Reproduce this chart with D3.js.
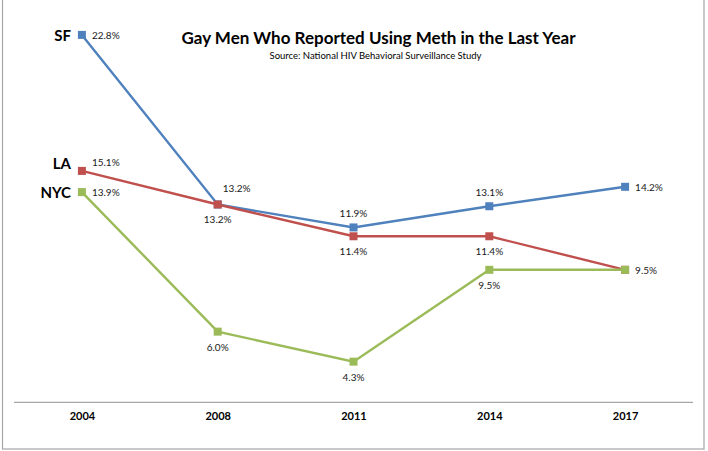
<!DOCTYPE html>
<html>
<head>
<meta charset="utf-8">
<script src="https://cdn.jsdelivr.net/npm/d3@7"></script>
<style>
  body { margin: 0; background: #fff; }
  svg { display: block; font-family: Lato, 'Open Sans', sans-serif; }
</style>
</head>
<body>
<div id="vis"></div>
<script>
var years = ['2004', '2008', '2011', '2014', '2017'];
var sfValues = [22.8, 13.2, 11.9, 13.1, 14.2];
var laValues = [15.1, 13.2, 11.4, 11.4, 9.5];
var nycValues = [13.9, 6.0, 4.3, 9.5, 9.5];
var seriesNames = ['SF', 'LA', 'NYC'];

var width = 708;
var height = 451;

var colors = {SF: '#4f81bd', LA: '#c0504d', NYC: '#9bbb59'};

// where each data label sits relative to its marker
var labelPlacement = {
  SF: ['right', 'aboveRight', 'above', 'above', 'right'],
  LA: ['aboveRight', 'below', 'below', 'below', null],
  NYC: ['right', 'below', 'below', 'below', 'right'],
};

var series = [
  {name: 'SF', values: sfValues},
  {name: 'LA', values: laValues},
  {name: 'NYC', values: nycValues},
];

var svg = d3
  .select('#vis')
  .append('svg')
  .attr('width', width)
  .attr('height', height);

// chart frame
svg
  .append('rect')
  .attr('x', 2.5)
  .attr('y', -5)
  .attr('width', 701.5)
  .attr('height', 454)
  .style('fill', 'none')
  .style('stroke', '#a6a6a6')
  .style('stroke-width', 1.2);

var x = d3
  .scalePoint()
  .domain(years)
  .range([14, 693])
  .padding(0.5);

var y = d3
  .scaleLinear()
  .domain([2, 24])
  .range([402.3, 13.7]);

// category axis
var xAxis = svg
  .append('g')
  .attr('transform', 'translate(0, 402.3)')
  .call(d3.axisBottom(x).tickSize(0).tickPadding(10));

xAxis
  .select('.domain')
  .attr('d', 'M14,0H693')
  .style('stroke', '#a6a6a6')
  .style('stroke-width', 1.2);

xAxis
  .selectAll('text')
  .style('font-family', 'Lato, sans-serif')
  .style('font-size', '11px')
  .style('font-weight', 'bold')
  .style('fill', '#000');

// title
svg
  .append('text')
  .attr('x', 378.5)
  .attr('y', 44)
  .attr('text-anchor', 'middle')
  .style('font-size', '17px')
  .style('font-weight', 'bold')
  .style('fill', '#000')
  .text('Gay Men Who Reported Using Meth in the Last Year');

svg
  .append('text')
  .attr('x', 375.5)
  .attr('y', 59)
  .attr('text-anchor', 'middle')
  .style('font-size', '9.5px')
  .style('fill', '#000')
  .text('Source: National HIV Behavioral Surveillance Study');

var line = d3
  .line()
  .x((d, i) => x(years[i]))
  .y(d => y(d));

var groups = svg
  .selectAll('g.series')
  .data(series)
  .enter()
  .append('g')
  .attr('class', 'series');

groups
  .append('path')
  .attr('d', d => line(d.values))
  .style('fill', 'none')
  .style('stroke', d => colors[d.name])
  .style('stroke-width', 2.4);

groups
  .selectAll('rect')
  .data(d => d.values.map(v => ({name: d.name, v: v})))
  .enter()
  .append('rect')
  .attr('x', (d, i) => x(years[i]) - 4)
  .attr('y', d => y(d.v) - 4)
  .attr('width', 8)
  .attr('height', 8)
  .style('fill', d => colors[d.name]);

// data labels
series.forEach(s => {
  s.values.forEach((v, i) => {
    var where = labelPlacement[s.name][i];
    if (!where) return;
    var px = x(years[i]);
    var py = y(v);
    var t = svg
      .append('text')
      .style('font-size', '10px')
      .style('fill', '#1a1a1a')
      .attr('dominant-baseline', 'central')
      .text(v.toFixed(1) + '%');
    if (where == 'right') {
      t.attr('x', px + 10).attr('y', py);
    } else if (where == 'aboveRight') {
      if (i == 0) {
        t.attr('x', px + 10).attr('y', py - 9);
      } else {
        t.attr('x', px + 19).attr('y', py - 16).attr('text-anchor', 'middle');
      }
    } else if (where == 'above') {
      t.attr('x', px).attr('y', py - 14).attr('text-anchor', 'middle');
    } else {
      t.attr('x', px).attr('y', py + 15).attr('text-anchor', 'middle');
    }
  });
});

// series names at the left
svg
  .selectAll('text.series-name')
  .data(series)
  .enter()
  .append('text')
  .attr('class', 'series-name')
  .attr('x', 71)
  .attr('y', d => (d.name == 'LA' ? y(d.values[0]) - 8 : y(d.values[0])))
  .attr('text-anchor', 'end')
  .attr('dominant-baseline', 'central')
  .style('font-size', '15px')
  .style('font-weight', 'bold')
  .style('fill', '#000')
  .text(d => d.name);
</script>
</body>
</html>
